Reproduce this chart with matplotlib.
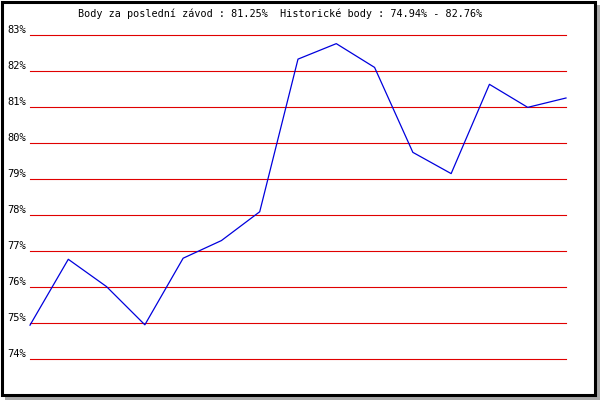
import matplotlib.pyplot as plt
from matplotlib.patches import Rectangle
import matplotlib.transforms as mtransforms

# points per race (percent)
races = list(range(15))
points = [74.94, 76.77, 76.01, 74.95, 76.80, 77.29, 78.09, 82.33,
          82.76, 82.10, 79.74, 79.15, 81.63, 80.99, 81.25]
yticks = [74, 75, 76, 77, 78, 79, 80, 81, 82, 83]
title = "Body za poslední závod : 81.25%  Historické body : 74.94% - 82.76%"

W, H = 600, 400
fig = plt.figure(figsize=(6, 4), dpi=100)
fig.patch.set_facecolor('white')

# shadow + black frame, kept behind the axes
fig.add_artist(Rectangle((5 / W, 0), 595 / W, 395 / H, transform=fig.transFigure,
                         facecolor='#aaaaaa', edgecolor='none', zorder=-2))
fig.add_artist(Rectangle((1.5 / W, 5.5 / H), 593 / W, 393 / H, transform=fig.transFigure,
                         facecolor='white', edgecolor='black', linewidth=2.2, zorder=-1))

ax = fig.add_axes([30 / W, (H - 359) / H, 536 / W, 324 / H])
ax.set_facecolor('none')
for s in ax.spines.values():
    s.set_visible(False)
ax.set_xlim(0, 14)
ax.set_ylim(74, 83)
ax.set_xticks([])
ax.set_yticks([])

for v in yticks:
    ax.axhline(v, color='#e00000', linewidth=0.8, zorder=1, clip_on=False, snap=True)

ax.plot(races, points, color='#0000dd', linewidth=0.9, zorder=2, clip_on=False)

trans = mtransforms.blended_transform_factory(ax.transAxes, ax.transData)
off = mtransforms.ScaledTranslation(-4 / 100, 2 / 100, fig.dpi_scale_trans)
for v in yticks:
    ax.text(0, v, f"{v}%", transform=trans + off, ha='right', va='baseline',
            family='DejaVu Sans Mono', fontsize=7.5, color='black')

fig.text(280 / W, (H - 14) / H, title, ha='center', va='center',
         family='DejaVu Sans Mono', fontsize=7.3, color='black')

fig.savefig('out.png', dpi=100)
